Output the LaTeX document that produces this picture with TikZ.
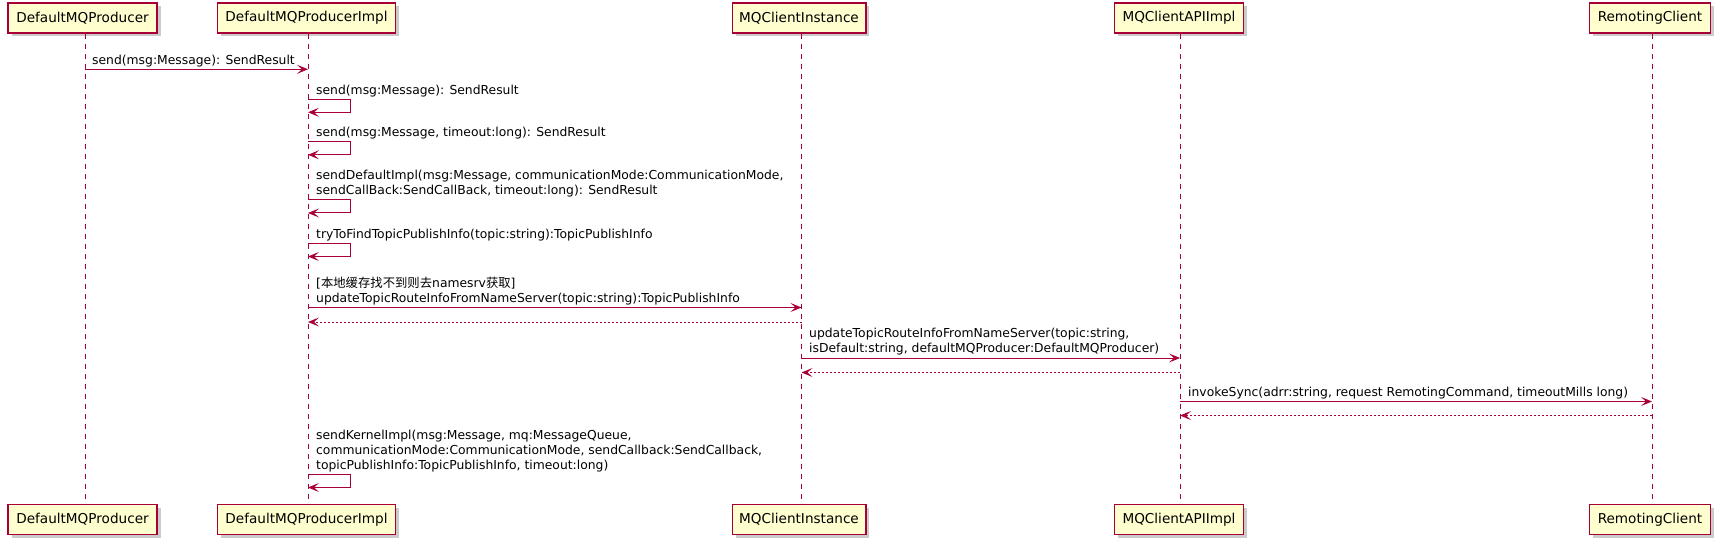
\documentclass[tikz,border=0pt]{standalone}
\usepackage{fontspec}
\setmainfont{DejaVu Sans}
\newfontfamily\cjk{Noto Sans CJK SC}
\usetikzlibrary{arrows.meta,shadows}
\definecolor{pborder}{HTML}{A80036}
\definecolor{pfill}{HTML}{FEFECE}
\begin{document}
\begin{tikzpicture}[x=1pt,y=-1pt,
  part/.style={draw=pborder, line width=1.3pt, fill=pfill, minimum height=30pt, inner sep=0pt,
    font=\fontsize{13.6}{16}\selectfont, text=black,
    drop shadow={shadow xshift=3.5pt, shadow yshift=-3.5pt, fill=black!40, opacity=0.5}},
  lifeline/.style={draw=pborder, line width=0.9pt, dash pattern=on 5pt off 5pt},
  msg/.style={draw=pborder, line width=1pt, -{Stealth[length=11pt,width=9pt,inset=5pt]}},
  ret/.style={msg, dash pattern=on 2pt off 2pt},
  msgtext/.style={anchor=south west, inner sep=0pt, align=left, text=black,
    font=\fontsize{12.35}{15}\selectfont, execute at end node=\strut}
]
\useasboundingbox (0,0) rectangle (1720,545);
\fill[white] (0,0) rectangle (1720,545);

% participants (top)
\node[part, minimum width=149pt]   (tA) at (82.5,18) {DefaultMQProducer};
\node[part, minimum width=178.4pt] (tB) at (306.5,18) {DefaultMQProducerImpl};
\node[part, minimum width=133.7pt] (tC) at (799,18) {MQClientInstance};
\node[part, minimum width=129.4pt] (tD) at (1179,18) {MQClientAPIImpl};
\node[part, minimum width=120.7pt] (tE) at (1650,18) {RemotingClient};
% participants (bottom)
\node[part, minimum width=149pt]   (bA) at (82.5,519.5) {DefaultMQProducer};
\node[part, minimum width=178.4pt] (bB) at (306.5,519.5) {DefaultMQProducerImpl};
\node[part, minimum width=133.7pt] (bC) at (799,519.5) {MQClientInstance};
\node[part, minimum width=129.4pt] (bD) at (1179,519.5) {MQClientAPIImpl};
\node[part, minimum width=120.7pt] (bE) at (1650,519.5) {RemotingClient};

% lifeline x positions
\coordinate (LA) at (85,0);
\coordinate (LB) at (308,0);
\coordinate (LC) at (801.5,0);
\coordinate (LD) at (1180,0);
\coordinate (LE) at (1652,0);

\draw[lifeline] (tA.south -| LA) -- (bA.north -| LA);
\draw[lifeline] (tB.south -| LB) -- (bB.north -| LB);
\draw[lifeline] (tC.south -| LC) -- (bC.north -| LC);
\draw[lifeline] (tD.south -| LD) -- (bD.north -| LD);
\draw[lifeline] (tE.south -| LE) -- (bE.north -| LE);

% 1
\coordinate (m1a) at (85,69.3); \coordinate (m1b) at (308,69.3);
\draw[msg] (m1a) -- (m1b);
\node[msgtext] (x1) at (92,68.8) {send(msg:Message): SendResult};
% 2
\coordinate (s2) at (308,99.3); \coordinate (s2e) at (308,112.3);
\draw[msg] (s2) -- ++(42,0) -- ++(0,13) -- (s2e);
\node[msgtext] (x2) at (316,98.8) {send(msg:Message): SendResult};
% 3
\coordinate (s3) at (308,141.8); \coordinate (s3e) at (308,154.8);
\draw[msg] (s3) -- ++(42,0) -- ++(0,13) -- (s3e);
\node[msgtext] (x3) at (316,141.3) {send(msg:Message, timeout:long): SendResult};
% 4
\coordinate (s4) at (308,200); \coordinate (s4e) at (308,213);
\draw[msg] (s4) -- ++(42,0) -- ++(0,13) -- (s4e);
\node[msgtext] (x4) at (316,199.5) {sendDefaultImpl(msg:Message, communicationMode:CommunicationMode,\\sendCallBack:SendCallBack, timeout:long): SendResult};
% 5
\coordinate (s5) at (308,243.5); \coordinate (s5e) at (308,256.5);
\draw[msg] (s5) -- ++(42,0) -- ++(0,13) -- (s5e);
\node[msgtext] (x5) at (316,243) {tryToFindTopicPublishInfo(topic:string):TopicPublishInfo};
% 6
\coordinate (m6a) at (308,307.5); \coordinate (m6b) at (801.5,307.5);
\draw[msg] (m6a) -- (m6b);
\node[msgtext] (x6) at (316,307) {[{\cjk 本地缓存找不到则去}namesrv{\cjk 获取}]\\updateTopicRouteInfoFromNameServer(topic:string):TopicPublishInfo};
\coordinate (r6a) at (801.5,322); \coordinate (r6b) at (308,322);
\draw[ret] (r6a) -- (r6b);
% 7
\coordinate (m7a) at (801.5,358); \coordinate (m7b) at (1180,358);
\draw[msg] (m7a) -- (m7b);
\node[msgtext] (x7) at (809,357.5) {updateTopicRouteInfoFromNameServer(topic:string,\\isDefault:string, defaultMQProducer:DefaultMQProducer)};
\coordinate (r7a) at (1180,372.5); \coordinate (r7b) at (801.5,372.5);
\draw[ret] (r7a) -- (r7b);
% 8
\coordinate (m8a) at (1180,401.5); \coordinate (m8b) at (1652,401.5);
\draw[msg] (m8a) -- (m8b);
\node[msgtext] (x8) at (1188,401) {invokeSync(adrr:string, request RemotingCommand, timeoutMills long)};
\coordinate (r8a) at (1652,415.5); \coordinate (r8b) at (1180,415.5);
\draw[ret] (r8a) -- (r8b);
% 9
\coordinate (s9) at (308,474.5); \coordinate (s9e) at (308,487.5);
\draw[msg] (s9) -- ++(42,0) -- ++(0,13) -- (s9e);
\node[msgtext] (x9) at (316,474) {sendKernelImpl(msg:Message, mq:MessageQueue,\\communicationMode:CommunicationMode, sendCallback:SendCallback,\\topicPublishInfo:TopicPublishInfo, timeout:long)};
\end{tikzpicture}
\end{document}
